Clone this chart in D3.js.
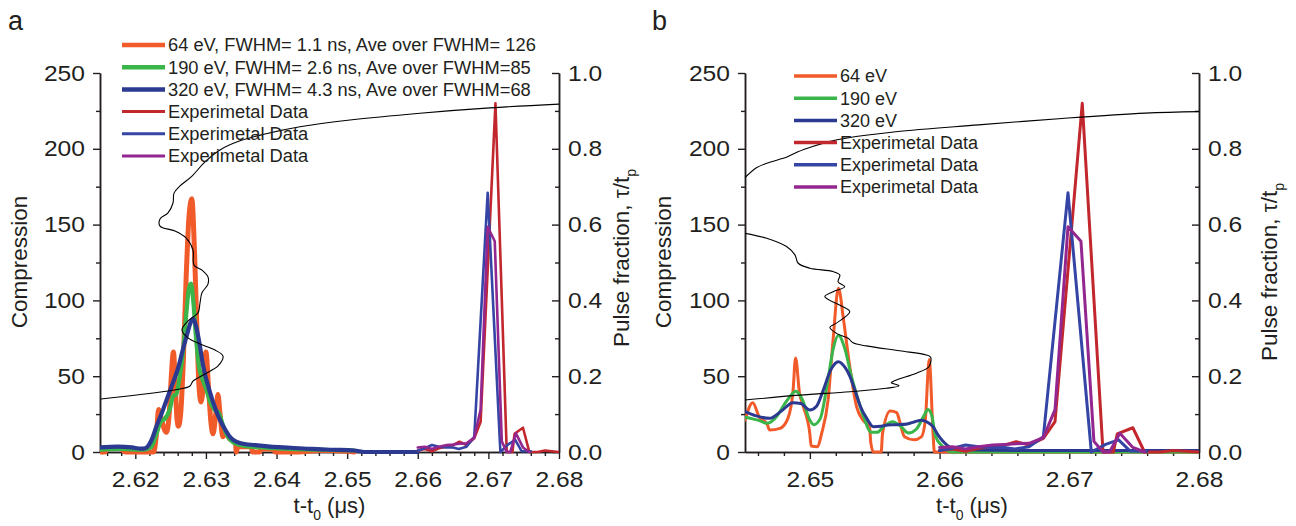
<!DOCTYPE html>
<html>
<head>
<meta charset="utf-8">
<script src="https://cdn.jsdelivr.net/npm/d3@7"></script>
<style>
  html, body { margin: 0; padding: 0; background: #fff; }
  svg { display: block; font-family: "Liberation Sans", Arial, Helvetica, sans-serif; }
</style>
</head>
<body>
<svg id="chart" width="1296" height="526"></svg>
<script>
// ---------- data: time t-t0 (µs) and compression ----------
// Panel a: simulated compression for three energies
const sim64A = [[2.6150,0],[2.6157,0],[2.6163,3],[2.6173,3],[2.6180,2],[2.6186,0],[2.6200,0],[2.6226,0],[2.6230,12],[2.6233,28],[2.6237,22],[2.6241,15],[2.6244,13],[2.6248,25],[2.6251,50],[2.6254,66],[2.6257,40],[2.6259,22],[2.6261,17],[2.6264,24],[2.6268,60],[2.6272,115],[2.6276,155],[2.6280,167],[2.6284,130],[2.6288,70],[2.6290,45],[2.6293,33],[2.6296,42],[2.6300,66],[2.6304,40],[2.6307,20],[2.6310,12],[2.6314,25],[2.6317,38],[2.6320,25],[2.6324,10],[2.6328,13],[2.6333,9],[2.6339,7],[2.6342,5],[2.6343,0],[2.6345,3.5],[2.6364,3.5],[2.6366,0],[2.6376,0],[2.6378,2],[2.6396,2],[2.6398,0],[2.6430,0],[2.6460,1],[2.6480,1],[2.6510,0]];
const sim190A = [[2.6150,1.5],[2.6180,2],[2.6210,1.5],[2.6222,3],[2.6230,12],[2.6236,20],[2.6242,22],[2.6248,27],[2.6254,37],[2.6258,38],[2.6263,50],[2.6268,68],[2.6272,90],[2.6276,108],[2.6279,111],[2.6282,100],[2.6286,75],[2.6290,57],[2.6295,48],[2.6300,42],[2.6306,33],[2.6312,28],[2.6318,26],[2.6324,18],[2.6330,11],[2.6340,6],[2.6355,4],[2.6380,3],[2.6420,2],[2.6460,1.5],[2.6510,1]];
const sim320A = [[2.6150,3],[2.6175,3.5],[2.6195,3],[2.6208,2.2],[2.6214,2.5],[2.6219,4.5],[2.6224,9],[2.6230,17],[2.6237,25],[2.6244,34],[2.6252,44],[2.6261,56],[2.6267,67],[2.6273,77],[2.6278,85],[2.6282,88],[2.6286,83],[2.6290,74],[2.6296,57],[2.6306,39],[2.6313,29],[2.6320,21],[2.6327,15],[2.6334,10],[2.6348,6],[2.6370,4.5],[2.6391,3.5],[2.6420,2.8],[2.6450,2],[2.6480,1.5],[2.6510,1],[2.6525,0],[2.6600,0]];

// Panel b: simulated compression for three energies
const sim64B = [[2.6450,21],[2.6456,32.5],[2.6461,23],[2.6467,18.5],[2.6469,14.5],[2.6477,15.6],[2.6483,22],[2.6487,40],[2.6489,62],[2.6492,39],[2.6495,30],[2.6500,12],[2.6501,4],[2.6506,3.5],[2.6509,12],[2.6514,34],[2.6518,75],[2.6522,108],[2.6526,87],[2.6530,61],[2.6536,30],[2.6541,21],[2.6546,16.7],[2.6547,6],[2.6549,0],[2.6555,0],[2.6556,12],[2.6562,27],[2.6567,26],[2.6569,21],[2.6573,10],[2.6580,8],[2.6586,10],[2.6589,21],[2.6592,61],[2.6595,12],[2.6596,0],[2.6800,0]];
const sim190B = [[2.6450,23],[2.6460,21],[2.6467,19],[2.6475,24],[2.6480,31],[2.6485,37],[2.6489,40],[2.6494,35],[2.6500,21],[2.6503,18],[2.6508,22],[2.6514,48],[2.6518,68],[2.6522,77],[2.6527,68],[2.6532,50],[2.6536,38],[2.6542,22],[2.6547,13],[2.6552,13],[2.6557,17],[2.6564,20],[2.6570,17],[2.6576,12.5],[2.6582,15],[2.6588,24],[2.6591,28],[2.6594,24],[2.6597,10],[2.6602,4],[2.6605,1.3],[2.6610,0],[2.6800,0]];
const sim320B = [[2.6450,26.6],[2.6458,24],[2.6469,22.2],[2.6478,27],[2.6487,32.5],[2.6493,32],[2.6500,27.7],[2.6505,30],[2.6510,40],[2.6516,54],[2.6522,59.6],[2.6527,56],[2.6531,49.7],[2.6535,40],[2.6539,30],[2.6544,22],[2.6549,16.7],[2.6555,17],[2.6560,17.8],[2.6568,18],[2.6575,18.5],[2.6581,20],[2.6586,21],[2.6591,19.5],[2.6595,16.7],[2.6599,11],[2.6603,6.8],[2.6610,2.4],[2.6620,1.5],[2.6680,1],[2.6800,1]];

// Measured compression (shared by both panels)
const expRed = [[2.6600,1],[2.6610,2],[2.6620,0.5],[2.6630,2.5],[2.6640,3.5],[2.6650,4.5],[2.6659,6.8],[2.6669,4.6],[2.6680,9],[2.6689,20],[2.6710,230],[2.6726,0],[2.6734,0],[2.6737,12],[2.6749,16],[2.6758,0],[2.6770,0],[2.6780,1],[2.6800,0]];
const expBlue = [[2.6600,1],[2.6610,2.5],[2.6620,4.6],[2.6630,3.5],[2.6640,3],[2.6650,3],[2.6658,2],[2.6669,3.5],[2.6680,10],[2.6699,171],[2.6717,0],[2.6728,5],[2.6738,8],[2.6747,0.6],[2.6760,0.5]];
const expPurple = [[2.6600,3],[2.6610,3.5],[2.6620,2],[2.6630,3.5],[2.6641,4.6],[2.6650,5],[2.6659,5.5],[2.6669,5.7],[2.6680,9.5],[2.6689,28],[2.6699,148.6],[2.6709,139],[2.6719,7],[2.6726,0],[2.6731,0],[2.6739,12.3],[2.6749,3],[2.6758,0]];

// Pulse fraction tau/tp versus arrival time: [t, fraction]
const pulseA = [[2.61514,0.140],[2.62633,0.166],[2.62774,0.174],[2.62817,0.187],[2.62987,0.206],[2.63171,0.227],[2.63242,0.253],[2.63128,0.269],[2.62916,0.285],[2.62746,0.301],[2.62661,0.322],[2.62746,0.346],[2.62888,0.367],[2.62916,0.393],[2.62944,0.420],[2.63029,0.443],[2.63029,0.462],[2.62944,0.480],[2.62831,0.493],[2.62817,0.533],[2.62718,0.565],[2.62562,0.583],[2.62350,0.596],[2.62350,0.615],[2.62463,0.631],[2.62534,0.657],[2.62548,0.683],[2.62633,0.702],[2.62803,0.728],[2.62973,0.763],[2.63199,0.797],[2.63483,0.821],[2.63837,0.839],[2.64332,0.858],[2.65040,0.876],[2.66032,0.894],[2.67023,0.908],[2.68000,0.918]];
const pulseLowB = [[2.6450,0.137],[2.6492,0.150],[2.6531,0.159],[2.6559,0.168],[2.65687,0.175],[2.65628,0.183],[2.65667,0.190],[2.65821,0.208],[2.65918,0.225],[2.65931,0.250],[2.65898,0.256],[2.65692,0.267],[2.65436,0.280],[2.65333,0.288],[2.65295,0.300],[2.65205,0.313],[2.65154,0.329],[2.65205,0.340],[2.65308,0.370],[2.65244,0.385],[2.65115,0.410],[2.65179,0.423],[2.65269,0.436],[2.65218,0.449],[2.65231,0.467],[2.65179,0.476],[2.6500,0.485],[2.6491,0.498],[2.64885,0.520],[2.6482,0.542],[2.64667,0.564],[2.6450,0.577]];
const pulseHighB = [[2.6450,0.724],[2.64588,0.750],[2.64668,0.762],[2.64828,0.779],[2.64908,0.792],[2.65021,0.806],[2.65149,0.819],[2.65277,0.828],[2.65662,0.845],[2.6630,0.863],[2.66944,0.880],[2.67585,0.894],[2.6800,0.898]];

// Axis tick values
const yTicks = [0, 50, 100, 150, 200, 250];
const yMinorTicks = [25, 75, 125, 175, 225];
const fracTicks = [0, 0.2, 0.4, 0.6, 0.8, 1.0];
const fracMinorTicks = [0.1, 0.3, 0.5, 0.7, 0.9];
const xTicksA = [2.62, 2.63, 2.64, 2.65, 2.66, 2.67, 2.68];
const xTicksB = [2.65, 2.66, 2.67, 2.68];

// Legend entries
const legendA = ["64 eV, FWHM= 1.1 ns, Ave over FWHM= 126", "190 eV, FWHM= 2.6 ns, Ave over FWHM=85", "320 eV, FWHM= 4.3 ns, Ave over FWHM=68", "Experimetal Data", "Experimetal Data", "Experimetal Data"];
const legendB = ["64 eV", "190 eV", "320 eV", "Experimetal Data", "Experimetal Data", "Experimetal Data"];

// ---------- styling ----------
const COL = {
  o: "#F15A29", g: "#39B54A", b: "#2B3990",
  red: "#C1272D", eb: "#3545A5", pu: "#93278F", ink: "#231F20"
};
const TICK_STRETCH = 1.12;   // tick numerals are set slightly wide
const svg = d3.select("#chart");

function minorX(d0, d1) {
  const lo = Math.ceil(d0 / 0.002 - 1e-6), hi = Math.floor(d1 / 0.002 + 1e-6);
  return d3.range(lo, hi + 1).filter(k => k % 5 !== 0).map(k => k * 0.002);
}

function drawPanel(p) {
  const x = d3.scaleLinear().domain(p.domain).range([p.x0, p.x1]);
  const y = d3.scaleLinear().domain([0, 250]).range([452, 73]);
  const yr = d3.scaleLinear().domain([0, 1]).range([452, 73]);
  const g = svg.append("g");

  const clipId = "clip-" + p.label;
  svg.append("defs").append("clipPath").attr("id", clipId)
    .append("rect").attr("x", p.x0).attr("y", 60).attr("width", p.x1 - p.x0).attr("height", 400);

  // axes
  const styleAxis = sel => {
    sel.selectAll("path.domain").attr("stroke", COL.ink).attr("stroke-width", 1.5);
    sel.selectAll(".tick line").attr("stroke", COL.ink).attr("stroke-width", 1.4);
    sel.selectAll("text").attr("fill", COL.ink).attr("font-size", 22)
      .attr("font-family", '"Liberation Sans", Arial, sans-serif')
      .attr("transform", `scale(${TICK_STRETCH},1)`);
  };
  g.append("g").attr("transform", `translate(${p.x0},0)`)
    .call(d3.axisLeft(y).tickValues(yTicks).tickSize(7).tickSizeOuter(0).tickPadding(6.4)).call(styleAxis);
  g.append("g").attr("transform", `translate(${p.x0},0)`)
    .call(d3.axisLeft(y).tickValues(yMinorTicks).tickSize(4).tickSizeOuter(0).tickFormat("")).call(styleAxis);
  g.append("g").attr("transform", `translate(${p.x1},0)`)
    .call(d3.axisRight(yr).tickValues(fracTicks).tickSize(-7).tickSizeOuter(0).tickPadding(8).tickFormat(d3.format(".1f"))).call(styleAxis);
  g.append("g").attr("transform", `translate(${p.x1},0)`)
    .call(d3.axisRight(yr).tickValues(fracMinorTicks).tickSize(-4).tickSizeOuter(0).tickFormat("")).call(styleAxis);
  g.append("g").attr("transform", "translate(0,452)")
    .call(d3.axisBottom(x).tickValues(p.xTicks).tickSize(7).tickSizeOuter(0).tickPadding(12).tickFormat(d3.format(".2f"))).call(styleAxis);
  g.append("g").attr("transform", "translate(0,452)")
    .call(d3.axisBottom(x).tickValues(minorX(p.domain[0], p.domain[1])).tickSize(4).tickSizeOuter(0).tickFormat("")).call(styleAxis);

  // axis titles
  const xt = g.append("text").attr("x", (p.x0 + p.x1) / 2).attr("y", 513)
    .attr("text-anchor", "middle").attr("font-size", 22).attr("fill", COL.ink);
  xt.append("tspan").text("t-t");
  xt.append("tspan").attr("font-size", 14).attr("dy", 7).text("0");
  xt.append("tspan").attr("dy", -7).text(" (\u03BCs)");

  g.append("text").attr("transform", `translate(${p.ylabX},262) rotate(-90)`)
    .attr("text-anchor", "middle").attr("font-size", 22.5).attr("fill", COL.ink).text("Compression");

  const rt = g.append("text").attr("transform", `translate(${p.rlabX},${p.rlabY}) rotate(-90)`)
    .attr("text-anchor", "middle").attr("font-size", 22.5).attr("fill", COL.ink);
  rt.append("tspan").text("Pulse fraction, \u03C4/t");
  rt.append("tspan").attr("font-size", 14).attr("dy", 7).text("p");

  // panel letter
  g.append("text").attr("x", p.letterX).attr("y", 30).attr("font-size", 27)
    .attr("fill", COL.ink).text(p.label);

  // data lines
  const plot = g.append("g").attr("clip-path", `url(#${clipId})`);
  const simLine = d3.line().x(d => x(d[0])).y(d => y(d[1])).curve(d3.curveMonotoneX);
  const expLine = d3.line().x(d => x(d[0])).y(d => y(d[1]));
  const fracLine = d3.line().x(d => x(d[0])).y(d => yr(d[1])).curve(d3.curveCatmullRom.alpha(0.5));

  const addPath = (data, gen, color, w) => plot.append("path").datum(data)
    .attr("d", gen).attr("fill", "none").attr("stroke", color).attr("stroke-width", w)
    .attr("stroke-linejoin", "round").attr("stroke-linecap", "round");

  addPath(p.sim[0], simLine, COL.o, p.simW[0]);
  addPath(p.sim[1], simLine, COL.g, p.simW[1]);
  addPath(p.sim[2], simLine, COL.b, p.simW[2]);
  addPath(expRed, expLine, COL.red, p.expW);
  addPath(expBlue, expLine, COL.eb, p.expW);
  addPath(expPurple, expLine, COL.pu, p.expW);
  p.pulse.forEach(seg => addPath(seg, fracLine, "#000", 1.1));

  // legend
  const cols = [COL.o, COL.g, COL.b, COL.red, COL.eb, COL.pu];
  const lg = g.append("g");
  p.legend.forEach((txt, i) => {
    const yy = p.legY + i * p.legStep;
    lg.append("line").attr("x1", p.legX).attr("x2", p.legX + 43).attr("y1", yy).attr("y2", yy)
      .attr("stroke", cols[i]).attr("stroke-width", p.legW[i]);
    lg.append("text").attr("x", p.legX + 46).attr("y", yy).attr("dy", "0.35em")
      .attr("font-size", p.legFont).attr("fill", COL.ink).text(txt);
  });
}

drawPanel({
  label: "a", domain: [2.615, 2.68], x0: 100, x1: 559, xTicks: xTicksA,
  ylabX: 27, rlabX: 629, rlabY: 258, letterX: 8,
  sim: [sim64A, sim190A, sim320A], simW: [5, 4.2, 4.2], expW: 2.6,
  pulse: [pulseA],
  legend: legendA, legX: 122, legY: 45, legStep: 22.2, legFont: 18.3, legW: [4.5, 4.5, 4.5, 3, 3, 3]
});

drawPanel({
  label: "b", domain: [2.645, 2.68], x0: 745, x1: 1199, xTicks: xTicksB,
  ylabX: 671, rlabX: 1277, rlabY: 272, letterX: 652,
  sim: [sim64B, sim190B, sim320B], simW: [3, 3, 3], expW: 3,
  pulse: [pulseLowB, pulseHighB],
  legend: legendB, legX: 794, legY: 76, legStep: 22.2, legFont: 18, legW: [3.5, 3.5, 3.5, 3.5, 3.5, 3.5]
});
</script>
</body>
</html>
